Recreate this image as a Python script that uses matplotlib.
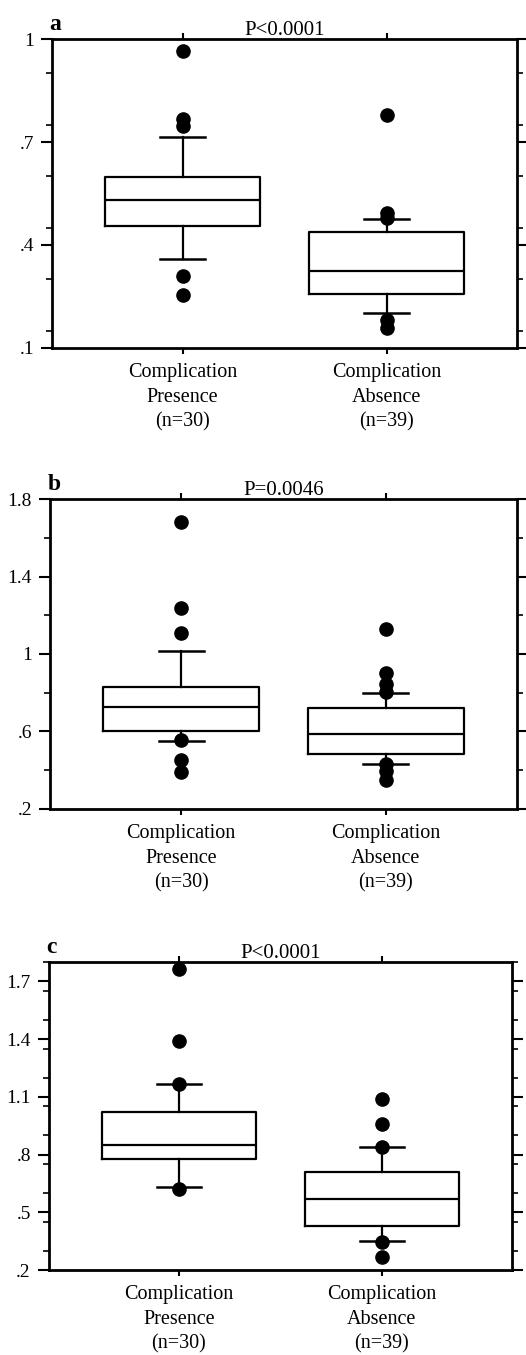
import matplotlib
matplotlib.use("Agg")
import matplotlib.pyplot as plt
from matplotlib.ticker import MultipleLocator

plt.rcParams['font.family'] = ['Liberation Serif', 'DejaVu Serif']

grupos = ["Complication\nPresence\n(n=30)", "Complication\nAbsence\n(n=39)"]
letras = ["a", "b", "c"]
pvalores = ["P<0.0001", "P=0.0046", "P<0.0001"]

# cuartiles: [presencia, ausencia]
q1 = [[0.456, 0.258], [0.600, 0.485], [0.776, 0.430]]
mediana = [[0.532, 0.323], [0.726, 0.588], [0.849, 0.568]]
q3 = [[0.597, 0.437], [0.827, 0.723], [1.020, 0.710]]
bigote_inf = [[0.359, 0.202], [0.550, 0.433], [0.633, 0.351]]
bigote_sup = [[0.716, 0.475], [1.016, 0.799], [1.169, 0.837]]
atipicos = [
    [[0.966, 0.766, 0.747, 0.309, 0.253], [0.778, 0.493, 0.478, 0.182, 0.158]],
    [[1.684, 1.236, 1.110, 0.554, 0.454, 0.390], [1.129, 0.904, 0.847, 0.804, 0.433, 0.398, 0.350]],
    [[1.766, 1.390, 1.169, 0.619], [1.088, 0.961, 0.840, 0.347, 0.266]],
]

ylims = [(0.1, 1.0), (0.2, 1.8), (0.2, 1.8)]
yticks = [[0.1, 0.4, 0.7, 1.0], [0.2, 0.6, 1.0, 1.4, 1.8], [0.2, 0.5, 0.8, 1.1, 1.4, 1.7]]
ytick_labels = [[".1", ".4", ".7", "1"], [".2", ".6", "1", "1.4", "1.8"], [".2", ".5", ".8", "1.1", "1.4", "1.7"]]
menores = [0.15, 0.2, 0.15]

posiciones = [
    [0.099, 0.7432, 0.884, 0.228],
    [0.095, 0.403, 0.888, 0.2287],
    [0.093, 0.0627, 0.880, 0.2273],
]

fig = plt.figure(figsize=(5.26, 13.55), dpi=100)

for i in range(3):
    ax = fig.add_axes(posiciones[i])
    stats = []
    for j in range(2):
        stats.append({
            "med": mediana[i][j], "q1": q1[i][j], "q3": q3[i][j],
            "whislo": bigote_inf[i][j], "whishi": bigote_sup[i][j],
            "fliers": atipicos[i][j],
        })
    ax.bxp(stats, positions=[1, 2], widths=0.76, capwidths=0.22,
           boxprops=dict(color='black', linewidth=1.6),
           medianprops=dict(color='black', linewidth=1.6),
           whiskerprops=dict(color='black', linewidth=1.6),
           capprops=dict(color='black', linewidth=1.8),
           flierprops=dict(marker='o', markerfacecolor='black', markeredgecolor='black', markersize=9.5))
    ax.set_xlim(0.36, 2.64)
    ax.set_ylim(*ylims[i])
    ax.set_yticks(yticks[i])
    ax.set_yticklabels(ytick_labels[i], fontsize=14)
    ax.yaxis.set_minor_locator(MultipleLocator(menores[i]))
    ax.set_xticks([1, 2])
    ax.set_xticklabels(grupos, fontsize=14.5, linespacing=1.38)
    for s in ax.spines.values():
        s.set_linewidth(2)
    ax.tick_params(axis='y', which='major', direction='out', length=8, width=1.5, left=True, right=True, pad=5)
    ax.tick_params(axis='y', which='minor', direction='out', length=4, width=1.2, left=True, right=True)
    ax.tick_params(axis='x', which='major', direction='out', length=4, width=1.5, top=True, bottom=True, pad=7)
    ax.set_title(pvalores[i], fontsize=15, pad=3)
    ax.text(-0.005, 1.012, letras[i], transform=ax.transAxes, fontsize=17, fontweight='bold', ha='left', va='bottom')

fig.savefig("out.png", dpi=100)
